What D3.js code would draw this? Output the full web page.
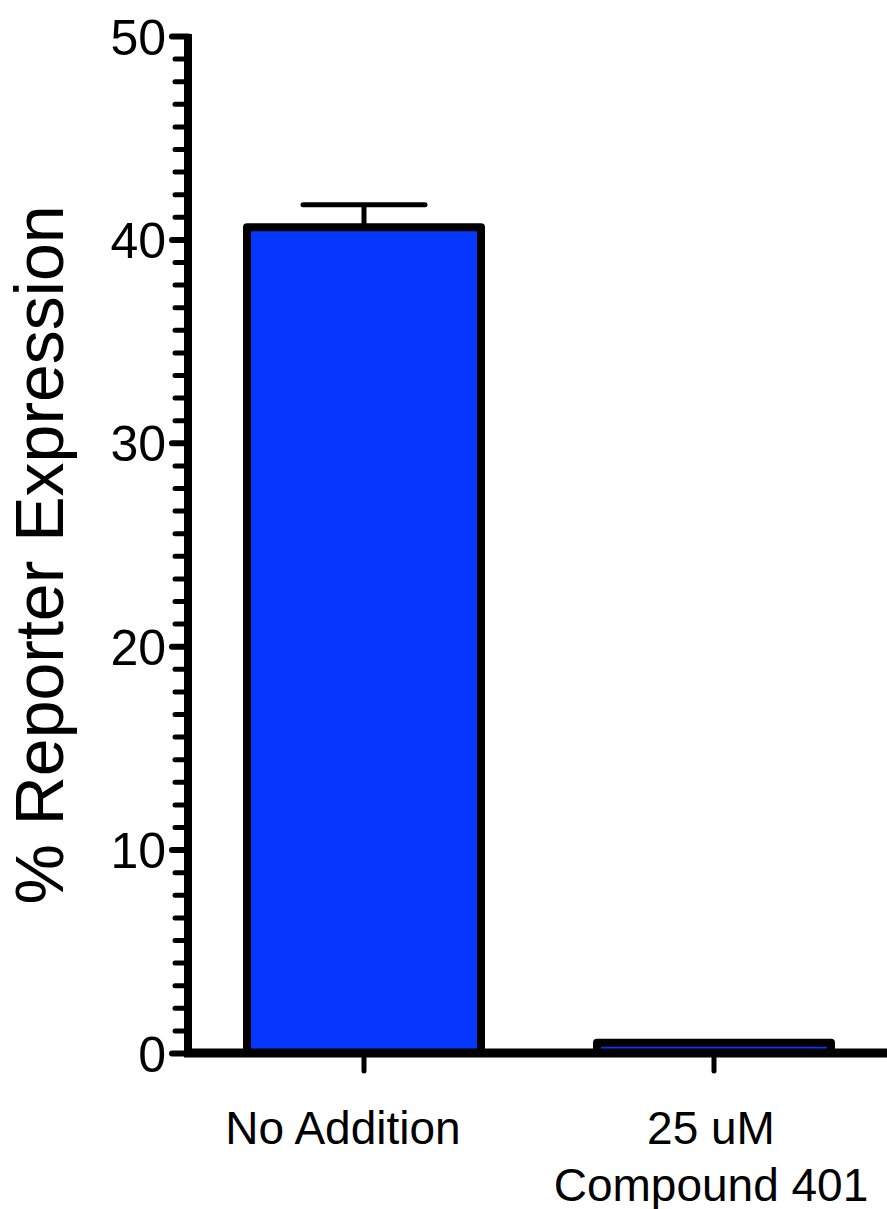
<!DOCTYPE html>
<html>
<head>
<meta charset="utf-8">
<script src="https://cdn.jsdelivr.net/npm/d3@7"></script>
<style>
  html, body { margin: 0; padding: 0; background: #fff; }
  text { font-family: "Liberation Sans", Arial, sans-serif; fill: #000; }
</style>
</head>
<body>
<div id="chart-area"></div>
<script>
// chart values
const categories = ["No Addition", "25 uM\nCompound 401"];
const means = [40.6, 0.5];
const sems = [1.1, 0];
const yTicks = [0, 10, 20, 30, 40, 50];
const yTitle = "% Reporter Expression";

const width = 887;
const height = 1209;

const svg = d3.select("#chart-area")
    .append("svg")
    .attr("width", width)
    .attr("height", height);

const axisX = 188;      // where the y axis sits
const baseY = 1053;     // where 0 sits

const y = d3.scaleLinear()
    .domain([0, 50])
    .range([baseY, 36]);

const x = d3.scaleBand()
    .domain(categories)
    .range([189, 889])
    .padding(0);

const barW = 234;

// minor ticks: Prism puts 8 between each pair of majors
const minorTicks = [];
for (let i = 0; i < 5; i++) {
    for (let j = 1; j < 9; j++) minorTicks.push(i * 10 + j * 10 / 9);
}

// error bars first, bars drawn over them
const err = svg.append("g")
    .attr("stroke", "black")
    .attr("stroke-width", 5)
    .attr("stroke-linecap", "round");

categories.forEach((c, i) => {
    if (!sems[i]) return;
    const cx = x(c) + x.bandwidth() / 2;
    err.append("line")
        .attr("x1", cx).attr("x2", cx)
        .attr("y1", y(means[i])).attr("y2", y(means[i] + sems[i]))
        .attr("stroke-linecap", "butt");
    err.append("line")
        .attr("x1", cx - 61).attr("x2", cx + 61)
        .attr("y1", y(means[i] + sems[i])).attr("y2", y(means[i] + sems[i]));
});

svg.append("g")
    .selectAll("rect")
    .data(categories)
    .join("rect")
    .attr("x", d => x(d) + (x.bandwidth() - barW) / 2)
    .attr("width", barW)
    .attr("y", (d, i) => y(means[i]))
    .attr("height", (d, i) => baseY - y(means[i]))
    .attr("fill", "#0537ff")
    .attr("stroke", "black")
    .attr("stroke-width", 8)
    .attr("stroke-linejoin", "round");

// y axis: minor ticks
const yMinor = svg.append("g")
    .attr("transform", `translate(${axisX},0)`)
    .call(d3.axisLeft(y).tickValues(minorTicks).tickSize(13).tickFormat(""));
yMinor.select(".domain").remove();
yMinor.selectAll(".tick line")
    .attr("stroke-width", 5)
    .attr("stroke-linecap", "round");

// y axis: majors with labels
const yAxis = svg.append("g")
    .attr("transform", `translate(${axisX},0)`)
    .call(d3.axisLeft(y).tickValues(yTicks).tickSizeInner(16).tickSizeOuter(0).tickPadding(6));
yAxis.select(".domain")
    .attr("stroke-width", 8)
    .attr("d", `M0,${y(50) - 2}V${baseY}`);
yAxis.selectAll(".tick line")
    .attr("stroke-width", 6)
    .attr("stroke-linecap", "round");
yAxis.selectAll(".tick text")
    .attr("font-size", 50)
    .attr("dy", "0.36em");

// x axis
const xAxis = svg.append("g")
    .attr("transform", `translate(0,${baseY})`)
    .call(d3.axisBottom(x).tickSizeInner(18).tickSizeOuter(0).tickFormat(""));
xAxis.select(".domain")
    .attr("stroke-width", 9)
    .attr("d", `M${axisX - 4},0H${width}`);
xAxis.selectAll(".tick line")
    .attr("stroke-width", 5)
    .attr("stroke-linecap", "round");

// category labels, one tspan per line
// (the single-line label sits a bit left of its tick in the original)
xAxis.selectAll(".tick")
    .append("text")
    .attr("font-size", 46)
    .attr("text-anchor", "middle")
    .attr("fill", "black")
    .each(function(d) {
        const lines = d.split("\n");
        const shift = lines.length === 1 ? -21 : -3;
        lines.forEach((l, k) => {
            d3.select(this).append("tspan")
                .attr("x", shift)
                .attr("y", 91 + k * 57)
                .text(l);
        });
    });

// y title
svg.append("text")
    .attr("transform", `translate(63,555) rotate(-90)`)
    .attr("text-anchor", "middle")
    .attr("font-size", 68)
    .text(yTitle);
</script>
</body>
</html>
